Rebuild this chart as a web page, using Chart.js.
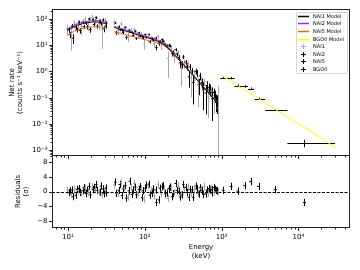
<!DOCTYPE html>
<html>
<head>
<meta charset="utf-8">
<script src="https://cdn.jsdelivr.net/npm/chart.js@4"></script>
<style>
  body { margin: 0; background: #fff; }
  #wrap { position: relative; width: 360px; height: 270px; }
  canvas { position: absolute; left: 0; top: 0; }
</style>
</head>
<body>
<div id="wrap">
  <canvas id="resid" width="360" height="270"></canvas>
  <canvas id="spec" width="360" height="270"></canvas>
</div>
<script>
// axis limits and tick labels
const energyRange = [6.2, 47000];
const rateRange = [6e-4, 240];
const residRange = [-10, 10];
const energyMajor = [10, 100, 1000, 10000];
const energyLabels = ['10¹', '10²', '10³', '10⁴'];
const rateMajor = [0.001, 0.01, 0.1, 1, 10, 100];
const rateLabels = ['10⁻³', '10⁻²', '10⁻¹', '10⁰', '10¹', '10²'];
const residTicks = [-8, -4, 0, 4, 8];
const residLabels = ['−8', '−4', '0', '4', '8'];
const naiGap = [32, 38]; // keV band left out of the NaI fit

// NaI channel energies (keV), each detector has its own channel grid
const nai1Energy = [9.8, 10.9, 12.1, 13.4, 14.9, 16.5, 18.3, 20.3, 22.5, 25.0, 27.7, 30.7,
    40.0, 44.2, 48.9, 54.1, 59.7, 66.1, 73.0, 80.7, 89.2, 98.6, 109, 120, 133, 147, 163, 180,
    199, 220, 243, 269, 297, 328, 363, 401, 443, 490, 542, 599, 662, 732, 809, 895];
const nai2Energy = [10.2, 11.3, 12.6, 13.9, 15.5, 17.1, 19.0, 21.1, 23.4, 26.0, 28.8, 31.6,
    41.4, 45.8, 50.6, 56.0, 61.9, 68.4, 75.6, 83.6, 92.4, 102, 113, 125, 138, 152, 169, 186,
    206, 228, 252, 279, 308, 340, 376, 415, 459, 507, 561, 620, 685, 757, 820, 865];
const nai5Energy = [10.5, 11.7, 13.0, 14.4, 16.0, 17.7, 19.6, 21.8, 24.2, 26.8, 29.4, 31.2,
    42.7, 47.2, 52.2, 57.7, 63.8, 70.6, 78.0, 86.3, 95.4, 105, 116, 129, 142, 157, 174, 193,
    213, 235, 260, 287, 318, 351, 388, 429, 474, 524, 580, 641, 700, 750, 800, 850];

// model count rates on the NAI1 grid
const nai1Model = [37, 44, 52, 58, 64, 69, 73, 76, 77, 76, 72, 67,
    47.3, 43.1, 39.4, 36.0, 32.9, 30.1, 27.5, 25.1, 23.0, 21.0, 19.2, 17.5, 16.0, 14.3, 12.5, 10.3,
    7.9, 5.9, 4.3, 3.1, 2.25, 1.63, 1.17, 0.85, 0.61, 0.44, 0.315, 0.226, 0.163, 0.116, 0.084, 0.060];
const nai2Model = [42, 50, 59, 66, 73, 78, 83, 86, 87, 86, 82, 76,
    52.5, 47.9, 43.8, 40.0, 36.6, 33.4, 30.5, 27.9, 25.5, 23.3, 21.3, 19.4, 17.8, 15.9, 13.9, 11.4,
    8.77, 6.49, 4.66, 3.36, 2.40, 1.73, 1.24, 0.895, 0.641, 0.462, 0.331, 0.237, 0.171, 0.122, 0.088, 0.063];
const nai5Model = [24, 29, 34, 38, 42, 45, 48, 50, 50, 50, 48, 44,
    32.6, 30.2, 28.0, 26.0, 24.2, 22.4, 20.7, 19.3, 17.9, 16.5, 15.3, 14.4, 13.5, 12.6, 11.4, 9.7,
    7.7, 5.9, 4.4, 3.26, 2.40, 1.73, 1.25, 0.90, 0.65, 0.47, 0.335, 0.24, 0.173, 0.124, 0.089, 0.064];

// observed rates, 1 sigma errors and residuals
const nai1Rate = [42.6, 27.2, 66.0, 63.1, 50.6, 95.1, 64.2, 112.5, 92.4, 69.6, 39.6, 80.4,
    72.9, 35.8, 64.8, 44.1, 21.1, 37.7, 40.8, 22.9, 27.0, 11.3, 25.5, 18.7, 11.4, 21.5, 10.1, 12.1,
    3.09, 7.97, 3.81, 5.31, 1.31, 2.04, 1.90, 0.57, 0.749, 0.308, 0.447, 0.416, 0.114, 0.179, 0.074, 0.04];
const nai1Err = [18.5, 21, 23.4, 25.5, 26.9, 29, 29.2, 30.4, 30.8, 31.9, 32.4, 33.5,
    14.2, 12.1, 10.6, 9.0, 7.9, 6.9, 6.05, 5.5, 5.06, 4.62, 4.22, 4.03, 3.84, 3.58, 3.38, 2.99,
    2.53, 2.07, 1.63, 1.30, 1.04, 0.815, 0.608, 0.468, 0.348, 0.264, 0.189, 0.136, 0.098, 0.070, 0.050, 0.25];
const nai1Resid = [0.3, -0.8, 0.6, 0.2, -0.5, 0.9, -0.3, 1.2, 0.5, -0.2, -1.0, 0.4,
    1.8, -0.6, 2.4, 0.9, -1.5, 1.1, 2.2, -0.4, 0.8, -2.1, 1.5, 0.3, -1.2, 2.0, -0.7, 0.6,
    -1.9, 1.0, -0.3, 1.7, -0.9, 0.5, 1.2, -0.6, 0.4, -0.5, 0.7, 1.4, -0.5, 0.9, -0.2, -0.1];

const nai2Rate = [39.2, 54, 48.4, 75, 75.3, 70.5, 100.5, 92.5, 111.9, 83.2, 91.7, 70.2,
    71.6, 49.8, 38.0, 47.7, 37.4, 30.5, 34.2, 29.6, 21.2, 25.4, 25.6, 18.3, 18.6, 11.5, 16.3, 10.4,
    9.89, 4.85, 6.71, 3.43, 1.86, 2.26, 0.626, 1.05, 1.016, 0.323, 0.379, 0.149, 0.250, 0.091, 0.125, 0.073];
const nai2Err = [9.2, 10, 10.6, 11.2, 11.7, 12.5, 12.5, 12.9, 13.1, 13.8, 13.9, 14.4,
    7.35, 6.23, 5.26, 4.8, 4.03, 3.67, 3.05, 2.79, 2.55, 2.33, 2.13, 2.13, 1.96, 1.91, 1.81, 1.60,
    1.40, 1.17, 0.93, 0.74, 0.60, 0.484, 0.384, 0.313, 0.25, 0.199, 0.159, 0.126, 0.099, 0.078, 0.062, 0.049];
const nai2Resid = [-0.3, 0.4, -1.0, 0.8, 0.2, -0.6, 1.4, 0.5, 1.9, -0.2, 0.7, -0.4,
    2.6, 0.3, -1.1, 1.6, 0.2, -0.8, 1.2, 0.6, -1.7, 0.9, 2.0, -0.5, 0.4, -2.3, 1.3, -0.6,
    0.8, -1.4, 2.2, 0.1, -0.9, 1.1, -1.6, 0.5, 1.5, -0.7, 0.3, -0.7, 0.8, -0.4, 0.6, 0.2];

const nai5Rate = [25.3, 18.5, 38.9, 36.3, 50.8, 48.6, 39.4, 61, 53, 65.8, 41.6, 53.5,
    30.0, 38.8, 30.7, 19.9, 33.0, 23.5, 18.5, 22.3, 18.3, 20.1, 13.5, 15.6, 8.2, 14.1, 14.0, 9.1,
    9.3, 5.23, 4.68, 2.13, 3.59, 1.58, 1.49, 0.38, 0.86, 0.68, 0.201, 0.293, 0.215, 0.165, 0.159, 0.079];
const nai5Err = [6.7, 7.5, 8.2, 8.4, 8.8, 9, 9.6, 10, 10, 10.5, 10.6, 10.6,
    5.22, 4.53, 3.92, 3.38, 3.15, 2.69, 2.48, 2.32, 2.15, 1.98, 1.84, 1.73, 1.76, 1.64, 1.60, 1.46,
    1.31, 1.12, 0.924, 0.75, 0.624, 0.502, 0.40, 0.324, 0.26, 0.212, 0.168, 0.132, 0.104, 0.082, 0.064, 0.051];
const nai5Resid = [0.2, -1.4, 0.6, -0.2, 1.0, 0.4, -0.9, 1.1, 0.3, 1.5, -0.6, 0.9,
    -0.5, 1.9, 0.7, -1.8, 2.8, 0.4, -0.9, 1.3, 0.2, 1.8, -1.0, 0.7, -3.0, 0.9, 1.6, -0.4,
    1.2, -0.6, 0.3, -1.5, 1.9, -0.3, 0.6, -1.6, 0.8, 1.0, -0.8, 0.4, 0.4, 0.5, 1.1, 0.3];

// BGO channels
const bgoEnergy = [1050, 1330, 1630, 2000, 2400, 3030, 5000, 12000];
const bgoLo = [960, 1190, 1480, 1800, 2200, 2700, 3700, 7200];
const bgoHi = [1180, 1480, 1800, 2200, 2650, 3700, 7200, 30000];
const bgoRate = [0.58, 0.56, 0.29, 0.27, 0.22, 0.09, 0.034, 0.0019];
const bgoErr = [0.06, 0.06, 0.03, 0.03, 0.025, 0.01, 0.003, 0.0006];
const bgoResid = [0.3, 1.4, 0.1, 1.6, 2.7, 1.4, 0.5, -3.0];
const bgoModelEnergy = [1000, 2000, 5000, 10000, 20000, 30000];
const bgoModel = [0.70, 0.195, 0.036, 0.0100, 0.0028, 0.0013];

const colors = { nai1Model: '#000000', nai2Model: '#9b30d9', nai5Model: '#e8651e', bgoModel: '#ffff00',
    nai1: '#a8a8a8', nai2: '#000000', nai5: '#000000', bgo: '#000000' };

Chart.defaults.font.family = '"DejaVu Sans", sans-serif';
Chart.defaults.font.size = 7;
Chart.defaults.color = '#000';

function points(xs, ys) {
    return xs.map((x, i) => ({ x: x, y: ys[i] }));
}

function logTicks(lo, hi) {
    const ticks = [];
    for (let e = Math.floor(Math.log10(lo)); e <= Math.ceil(Math.log10(hi)); e++) {
        for (let m = 1; m < 10; m++) {
            const v = m * Math.pow(10, e);
            if (v >= lo && v <= hi) ticks.push({ value: v });
        }
    }
    return ticks;
}

function majorLabel(majors, labels, v) {
    const i = majors.findIndex(m => Math.abs(Math.log10(m) - Math.log10(v)) < 1e-6);
    return i < 0 ? '' : labels[i];
}

function isMajor(scale, v) {
    if (scale.type !== 'logarithmic') return true;
    const l = Math.log10(v);
    return Math.abs(l - Math.round(l)) < 1e-6;
}

function modelSet(label, color, xs, ys) {
    return {
        label: label, kind: 'model', data: points(xs, ys), showLine: true,
        borderColor: color, borderWidth: 1, pointRadius: 0, order: 0,
        segment: {
            borderColor: c => (c.p0.parsed.x < naiGap[0] && c.p1.parsed.x > naiGap[1]) ? 'transparent' : undefined
        }
    };
}

function dataSet(label, color, xs, ys, err, radius) {
    return {
        label: label, kind: 'data', data: points(xs, ys), err: err,
        borderColor: color, backgroundColor: color, borderWidth: 1,
        pointStyle: 'line', pointRadius: radius, pointHoverRadius: radius, order: 1
    };
}

// vertical (and optional horizontal) error bars, drawn under the datasets
const errorBars = {
    id: 'errorBars',
    beforeDatasetsDraw(chart) {
        const { ctx, chartArea: a, scales: { x, y } } = chart;
        ctx.save();
        ctx.beginPath();
        ctx.rect(a.left, a.top, a.right - a.left, a.bottom - a.top);
        ctx.clip();
        chart.data.datasets.forEach(ds => {
            if (!ds.err) return;
            ctx.strokeStyle = ds.borderColor;
            ctx.lineWidth = 1;
            ds.data.forEach((p, i) => {
                const px = Math.round(x.getPixelForValue(p.x)) + 0.5;
                const py = Math.round(y.getPixelForValue(p.y)) + 0.5;
                const low = p.y - ds.err[i];
                const top = y.getPixelForValue(p.y + ds.err[i]);
                const bottom = (y.type === 'logarithmic' && low <= 0) ? a.bottom : y.getPixelForValue(low);
                ctx.beginPath();
                ctx.moveTo(px, bottom);
                ctx.lineTo(px, top);
                if (ds.xLo) {
                    ctx.moveTo(x.getPixelForValue(ds.xLo[i]), py);
                    ctx.lineTo(x.getPixelForValue(ds.xHi[i]), py);
                }
                ctx.stroke();
            });
        });
        ctx.restore();
    }
};

// box around the panel and matplotlib style tick marks
const frame = {
    id: 'frame',
    afterDraw(chart) {
        const { ctx, chartArea: a, scales: { x, y } } = chart;
        ctx.save();
        ctx.strokeStyle = '#222';
        ctx.lineWidth = 1;
        ctx.strokeRect(a.left + 0.5, a.top + 0.5, a.right - a.left - 1, a.bottom - a.top - 1);
        ctx.beginPath();
        x.ticks.forEach(t => {
            const px = Math.round(x.getPixelForValue(t.value)) + 0.5;
            ctx.moveTo(px, a.bottom);
            ctx.lineTo(px, a.bottom + (isMajor(x, t.value) ? 3 : 1.5));
        });
        y.ticks.forEach(t => {
            const py = Math.round(y.getPixelForValue(t.value)) + 0.5;
            ctx.moveTo(a.left, py);
            ctx.lineTo(a.left - (isMajor(y, t.value) ? 3 : 1.5), py);
        });
        ctx.stroke();
        ctx.restore();
    }
};

const legendBox = {
    id: 'legendBox',
    afterDraw(chart) {
        const { ctx, chartArea: a } = chart;
        const rowH = 7.6, w = 51, h = 61;
        const left = Math.round(a.right - 3 - w), top = Math.round(a.top + 3);
        ctx.save();
        ctx.fillStyle = 'rgba(255,255,255,0.85)';
        ctx.strokeStyle = '#d6d6d6';
        ctx.lineWidth = 1;
        ctx.beginPath();
        ctx.roundRect(left + 0.5, top + 0.5, w, h, 1.5);
        ctx.fill();
        ctx.stroke();
        ctx.font = '5px "DejaVu Sans"';
        ctx.textBaseline = 'middle';
        chart.data.datasets.forEach((ds, i) => {
            const cy = Math.round(top + 3.7 + i * rowH) + 0.5;
            ctx.strokeStyle = ds.borderColor;
            ctx.beginPath();
            if (ds.kind === 'model') {
                ctx.lineWidth = 1.5;
                ctx.moveTo(left + 2, cy);
                ctx.lineTo(left + 13, cy);
            } else {
                ctx.lineWidth = 1;
                ctx.moveTo(left + 5, cy);
                ctx.lineTo(left + 10, cy);
                ctx.moveTo(left + 7.5, cy - 2.5);
                ctx.lineTo(left + 7.5, cy + 2.5);
            }
            ctx.stroke();
            ctx.fillStyle = '#000';
            ctx.fillText(ds.label, left + 17, cy + 0.5);
        });
        ctx.restore();
    }
};

// dashed zero line of the residual panel
const zeroLine = {
    id: 'zeroLine',
    beforeDatasetsDraw(chart) {
        const { ctx, chartArea: a, scales: { y } } = chart;
        const py = Math.round(y.getPixelForValue(0)) + 0.5;
        ctx.save();
        ctx.strokeStyle = '#000';
        ctx.lineWidth = 1;
        ctx.setLineDash([3, 1.5]);
        ctx.beginPath();
        ctx.moveTo(a.left, py);
        ctx.lineTo(a.right, py);
        ctx.stroke();
        ctx.restore();
    }
};

function energyAxis(show) {
    return {
        type: 'logarithmic', min: energyRange[0], max: energyRange[1], display: show,
        afterBuildTicks: ax => { ax.ticks = logTicks(energyRange[0], energyRange[1]); },
        afterFit: ax => { if (show) ax.height = 32; },
        grid: { display: false, tickLength: 3 },
        border: { display: false },
        ticks: { autoSkip: false, maxRotation: 0, padding: 1.5, callback: v => majorLabel(energyMajor, energyLabels, v) },
        title: { display: show, text: ['Energy', '(keV)'], padding: { top: 1, bottom: 0 } }
    };
}

const bgoData = dataSet('BGO0', colors.bgo, bgoEnergy, bgoRate, bgoErr, 0);
bgoData.xLo = bgoLo;
bgoData.xHi = bgoHi;

new Chart(document.getElementById('spec'), {
    type: 'scatter',
    data: {
        datasets: [
            modelSet('NAI1 Model', colors.nai1Model, nai1Energy, nai1Model),
            modelSet('NAI2 Model', colors.nai2Model, nai1Energy, nai2Model),
            modelSet('NAI5 Model', colors.nai5Model, nai1Energy, nai5Model),
            modelSet('BGO0 Model', colors.bgoModel, bgoModelEnergy, bgoModel),
            dataSet('NAI1', colors.nai1, nai1Energy, nai1Rate, nai1Err, 1.2),
            dataSet('NAI2', colors.nai2, nai2Energy, nai2Rate, nai2Err, 1.2),
            dataSet('NAI5', colors.nai5, nai5Energy, nai5Rate, nai5Err, 1.2),
            bgoData
        ]
    },
    options: {
        responsive: false, animation: false, devicePixelRatio: 1,
        layout: { padding: { left: 0, right: 10, top: 9, bottom: 114 } },
        plugins: { legend: { display: false }, tooltip: { enabled: false } },
        scales: {
            x: energyAxis(false),
            y: {
                type: 'logarithmic', min: rateRange[0], max: rateRange[1],
                afterBuildTicks: ax => { ax.ticks = logTicks(rateRange[0], rateRange[1]); },
                afterFit: ax => { ax.width = 52; },
                grid: { display: false, tickLength: 3 },
                border: { display: false },
                ticks: { autoSkip: false, padding: 1.5, callback: v => majorLabel(rateMajor, rateLabels, v) },
                title: { display: true, text: ['Net rate', '(counts s⁻¹ keV⁻¹)'], padding: { top: 8, bottom: 0 } }
            }
        }
    },
    plugins: [errorBars, frame, legendBox]
});

new Chart(document.getElementById('resid'), {
    type: 'scatter',
    data: {
        datasets: [
            dataSet('NAI1', colors.nai1, nai1Energy, nai1Resid, nai1Resid.map(() => 1), 1.2),
            dataSet('NAI2', colors.nai2, nai2Energy, nai2Resid, nai2Resid.map(() => 1), 1.2),
            dataSet('NAI5', colors.nai5, nai5Energy, nai5Resid, nai5Resid.map(() => 1), 1.2),
            dataSet('BGO0', colors.bgo, bgoEnergy, bgoResid, bgoResid.map(() => 1), 1.5)
        ]
    },
    options: {
        responsive: false, animation: false, devicePixelRatio: 1,
        layout: { padding: { left: 0, right: 10, top: 155, bottom: 10 } },
        plugins: { legend: { display: false }, tooltip: { enabled: false } },
        scales: {
            x: energyAxis(true),
            y: {
                type: 'linear', min: residRange[0], max: residRange[1],
                afterBuildTicks: ax => { ax.ticks = residTicks.map(v => ({ value: v })); },
                afterFit: ax => { ax.width = 52; },
                grid: { display: false, tickLength: 3 },
                border: { display: false },
                ticks: { autoSkip: false, padding: 1.5, callback: v => residLabels[residTicks.indexOf(v)] },
                title: { display: true, text: ['Residuals', '(σ)'], padding: { top: 14, bottom: 0 } }
            }
        }
    },
    plugins: [errorBars, zeroLine, frame]
});
</script>
</body>
</html>
